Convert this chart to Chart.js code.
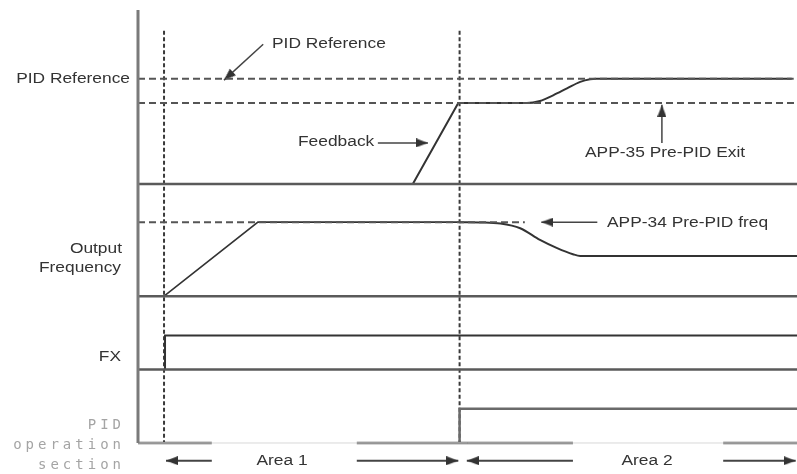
<!DOCTYPE html>
<html>
<head>
<meta charset="utf-8">
<title>Pre-PID operation timing</title>
<script src="https://cdn.jsdelivr.net/npm/chart.js@4.4.1/dist/chart.umd.min.js"></script>
<style>
  html, body { margin: 0; padding: 0; background: #fff; }
  #wrap { width: 797px; height: 474px; }
</style>
</head>
<body>
<div id="wrap"><canvas id="timing"></canvas></div>
<script>
// ================================================
//  Pre-PID timing diagram
//  x = time (0 = left axis, 100 = right edge)
//  y = trace level (0 = bottom baseline, 100 = top of axis)
// ================================================

//  DATA

const markerTimes  = [3.95, 48.8];          // FX on, PID start (dotted verticals)
const markerTop    = 95.2;

const refLevels    = [84.1, 78.5, 51.0];    // PID reference, APP-35 exit, APP-34 freq
const refEnds      = [99.5, 100, 58.7];

const baseLevels   = [59.8, 33.9, 17.0];    // feedback, output freq, FX baselines

const feedbackRampT   = [0, 41.7, 48.6];
const feedbackRampV   = [59.8, 59.8, 78.5];
const feedbackSettleT = [48.6, 59.0, 61.0, 63.0, 65.1, 67.1, 68.6, 69.5, 99.2];
const feedbackSettleV = [78.5, 78.5, 79.0, 80.3, 81.9, 83.4, 84.0, 84.1, 84.1];

const outputRampT     = [3.95, 18.2, 48.8];
const outputRampV     = [33.9, 51.0, 51.0];
const outputSettleT   = [48.8, 52.0, 55.0, 58.0, 61.0, 63.6, 66.0, 67.1, 100];
const outputSettleV   = [51.0, 50.95, 50.7, 49.6, 46.9, 45.0, 43.6, 43.2, 43.2];

const fxT  = [4.1, 4.1, 100];
const fxV  = [17.0, 24.8, 24.8];

const pidT = [48.8, 48.8, 100];
const pidV = [0, 7.9, 7.9];

const sectionSegments = [[0, 11.2], [33.2, 66.0], [88.8, 100]];

// arrows: [tailT, tailV, tipT, tipV]
const arrowPidRef  = [19.0, 92.1, 13.05, 83.8];
const arrowFeed    = [36.4, 69.3, 44.0, 69.3];
const arrowExit    = [79.5, 69.3, 79.5, 78.1];
const arrowFreq    = [69.7, 51.0, 61.2, 51.0];
const arrowsArea   = [
  [11.2, -4.1, 4.25, -4.1],
  [33.2, -4.1, 48.6, -4.1],
  [66.0, -4.1, 49.9, -4.1],
  [88.8, -4.1, 99.8, -4.1],
];

//  STYLES

const INK   = '#333333';
const BASE  = '#5a5a5a';
const DASH  = '#555555';

// arrow head drawn as a small canvas, tip in the centre
const arrowHead = document.createElement('canvas');
arrowHead.width  = 24;
arrowHead.height = 9;
(() => {
  const c = arrowHead.getContext('2d');
  c.fillStyle = INK;
  c.beginPath();
  c.moveTo(0, 0);
  c.lineTo(12, 4.5);
  c.lineTo(0, 9);
  c.closePath();
  c.fill();
})();

//  HELPERS

function pts(ts, vs) {
  return ts.map((t, i) => ({ x: t, y: vs[i] }));
}

function line(data, opts = {}) {
  return Object.assign({
    data,
    borderColor:  INK,
    borderWidth:  2,
    pointRadius:  0,
    tension:      0,
    clip:         false,
  }, opts);
}

function arrow(a, width = 1.5) {
  return line(pts([a[0], a[2]], [a[1], a[3]]), {
    borderColor:     '#444',
    borderWidth:     width,
    pointStyle:      arrowHead,
    pointRadius:     [0, 6],
    pointRotation:   ctx => {
      const { x, y } = ctx.chart.scales;
      const dx = x.getPixelForValue(a[2]) - x.getPixelForValue(a[0]);
      const dy = y.getPixelForValue(a[3]) - y.getPixelForValue(a[1]);
      return Math.atan2(dy, dx) * 180 / Math.PI;
    },
  });
}

//  DATASETS

const datasets = [];

// vertical axis
datasets.push(line(pts([0, 0], [0, 100]), { borderColor: '#7a7a7a', borderWidth: 3 }));

// dashed reference levels
refLevels.forEach((v, i) => {
  datasets.push(line(pts([0, refEnds[i]], [v, v]), { borderColor: DASH, borderDash: [7, 4] }));
});

// baselines
baseLevels.forEach(v => {
  datasets.push(line(pts([0, 100], [v, v]), { borderColor: BASE, borderWidth: 2.5 }));
});

// bottom baseline, faint behind the Area labels
datasets.push(line(pts([0, 100], [0, 0]), { borderColor: '#d8d8d8', borderWidth: 1 }));
sectionSegments.forEach(s => {
  datasets.push(line(pts(s, [0, 0]), { borderColor: BASE, borderWidth: 2.5 }));
});

// signals
datasets.push(line(pts(feedbackRampT, feedbackRampV)));
datasets.push(line(pts(feedbackSettleT, feedbackSettleV), { cubicInterpolationMode: 'monotone' }));
datasets.push(line(pts(outputRampT, outputRampV), { borderWidth: 1.6 }));
datasets.push(line(pts(outputSettleT, outputSettleV), { cubicInterpolationMode: 'monotone' }));
datasets.push(line(pts(fxT, fxV)));
datasets.push(line(pts(pidT, pidV), { borderColor: '#6a6a6a', borderWidth: 2.5 }));

// dotted time markers
markerTimes.forEach(t => {
  datasets.push(line(pts([t, t], [markerTop, 0]), { borderColor: '#3a3a3a', borderDash: [4, 2.5] }));
});

// annotation arrows
[arrowPidRef, arrowFeed, arrowExit, arrowFreq].forEach(a => datasets.push(arrow(a)));
arrowsArea.forEach(a => datasets.push(arrow(a, 2)));

//  TEXT

const labels = [
  { text: 'PID Reference',        x: 130, y: 79,  align: 'right' },
  { text: 'PID Reference',        x: 272, y: 44,  align: 'left' },
  { text: 'Feedback',             x: 298, y: 142, align: 'left' },
  { text: 'APP-35 Pre-PID Exit',  x: 585, y: 153, align: 'left' },
  { text: 'APP-34 Pre-PID freq',  x: 607, y: 223, align: 'left' },
  { text: 'Output',               x: 122, y: 249, align: 'right' },
  { text: 'Frequency',            x: 121, y: 268, align: 'right' },
  { text: 'FX',                   x: 121, y: 357, align: 'right' },
  { text: 'Area 1',               x: 282, y: 461, align: 'center' },
  { text: 'Area 2',               x: 647, y: 461, align: 'center' },
];

const monoLabels = [
  { text: 'PID',       x: 125, y: 425 },
  { text: 'operation', x: 125, y: 445 },
  { text: 'section',   x: 125, y: 465 },
];

const textPlugin = {
  id: 'diagramText',
  afterDatasetsDraw(chart) {
    const ctx = chart.ctx;
    ctx.save();
    ctx.textBaseline = 'middle';
    ctx.fillStyle = '#333';
    ctx.font = '14px "Liberation Sans", Arial, sans-serif';
    labels.forEach(l => {
      ctx.save();
      ctx.translate(l.x, l.y);
      ctx.scale(1.24, 1);
      ctx.textAlign = l.align;
      ctx.fillText(l.text, 0, 0);
      ctx.restore();
    });

    ctx.fillStyle = '#a4a4a4';
    ctx.font = '14px "DejaVu Sans Mono", monospace';
    ctx.letterSpacing = '4px';
    ctx.textAlign = 'right';
    monoLabels.forEach(l => ctx.fillText(l.text, l.x, l.y));
    ctx.restore();
  },
};

//  CHART

new Chart(document.getElementById('timing'), {
  type: 'line',
  data: { datasets },
  options: {
    responsive:          true,
    maintainAspectRatio: false,
    animation:           false,
    events:              [],
    layout: {
      autoPadding: false,
      padding: { left: 138, right: 0, top: 10, bottom: 0.7 },
    },
    plugins: {
      legend:  { display: false },
      tooltip: { enabled: false },
    },
    scales: {
      x: { type: 'linear', min: 0,  max: 100, display: false },
      y: { type: 'linear', min: -7, max: 100, display: false },
    },
  },
  plugins: [textPlugin],
});
</script>
</body>
</html>
